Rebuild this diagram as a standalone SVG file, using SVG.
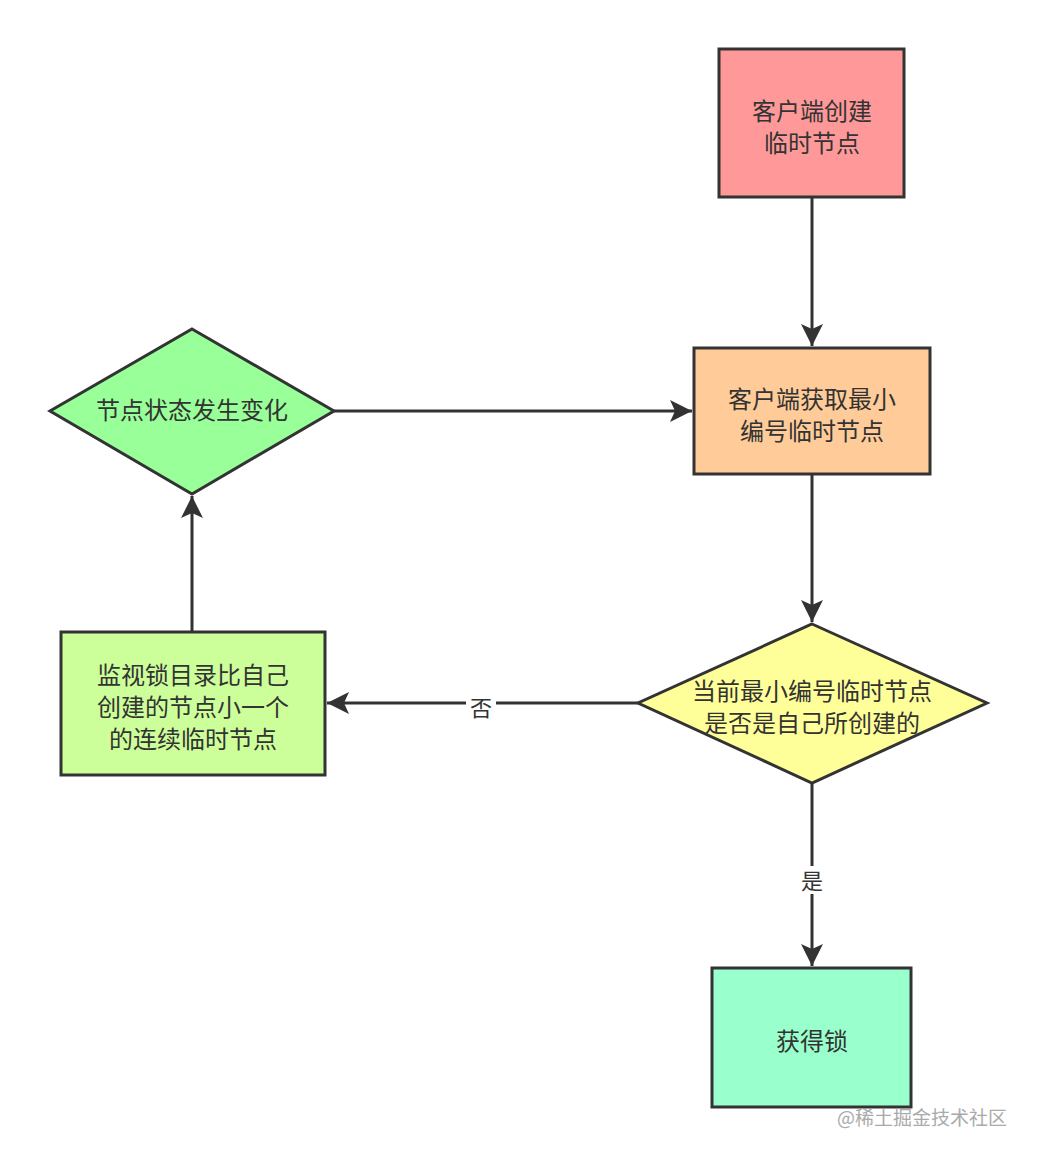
<svg xmlns="http://www.w3.org/2000/svg" width="1037" height="1158" viewBox="0 0 1037 1158">
<style>
.n{stroke:#333;stroke-width:3}
.t{font-family:"Noto Sans CJK SC","Noto Sans",sans-serif;font-size:24px;fill:#333;text-anchor:middle}
.c{stroke:#333;stroke-width:3;fill:none;marker-end:url(#a)}
.l{font-family:"Noto Sans CJK SC",sans-serif;font-size:22px;fill:#333;text-anchor:middle}
</style>
<defs><marker id="a" markerUnits="userSpaceOnUse" markerWidth="24" markerHeight="24" refX="22" refY="11" orient="auto"><path d="M0,0L22,11L0,22L5,11Z" fill="#333"/></marker></defs>
<rect width="1037" height="1158" fill="#fff"/>
<g id="connectors">
<path class="c" d="M812,197V346"/>
<path class="c" d="M334,411H692"/>
<path class="c" d="M812,474V622"/>
<path class="c" d="M638,703H327"/>
<path class="c" d="M812,783V966"/>
<path class="c" d="M192,632V496"/>
<rect x="466" y="692" width="30" height="28" fill="#fff"/>
<text class="l" x="481" y="716">否</text>
<rect x="797" y="866" width="30" height="28" fill="#fff"/>
<text class="l" x="812" y="889">是</text>
</g>
<g id="n1"><rect class="n" x="719" y="49" width="185" height="148" fill="#FF9999"/><text class="t" x="812" y="120">客户端创建</text><text class="t" x="812" y="152">临时节点</text></g>
<g id="n2"><rect class="n" x="694" y="348" width="236" height="126" fill="#FFCC99"/><text class="t" x="812" y="408">客户端获取最小</text><text class="t" x="812" y="440">编号临时节点</text></g>
<g id="n3"><polygon class="n" points="192,329 334,411 192,494 50,411" fill="#99FF99"/><text class="t" x="192" y="419">节点状态发生变化</text></g>
<g id="n4"><polygon class="n" points="812,624 987,703 812,783 638,703" fill="#FFFF99"/><text class="t" x="812" y="700">当前最小编号临时节点</text><text class="t" x="812" y="732">是否是自己所创建的</text></g>
<g id="n5"><rect class="n" x="61" y="632" width="264" height="143" fill="#CCFF99"/><text class="t" x="193" y="684">监视锁目录比自己</text><text class="t" x="193" y="716">创建的节点小一个</text><text class="t" x="193" y="748">的连续临时节点</text></g>
<g id="n6"><rect class="n" x="712" y="968" width="199" height="139" fill="#99FFCC"/><text class="t" x="812" y="1050">获得锁</text></g>
<text x="1007" y="1125" font-family="Noto Sans CJK SC,sans-serif" font-size="19" fill="#aaa" text-anchor="end">@稀土掘金技术社区</text>
</svg>
